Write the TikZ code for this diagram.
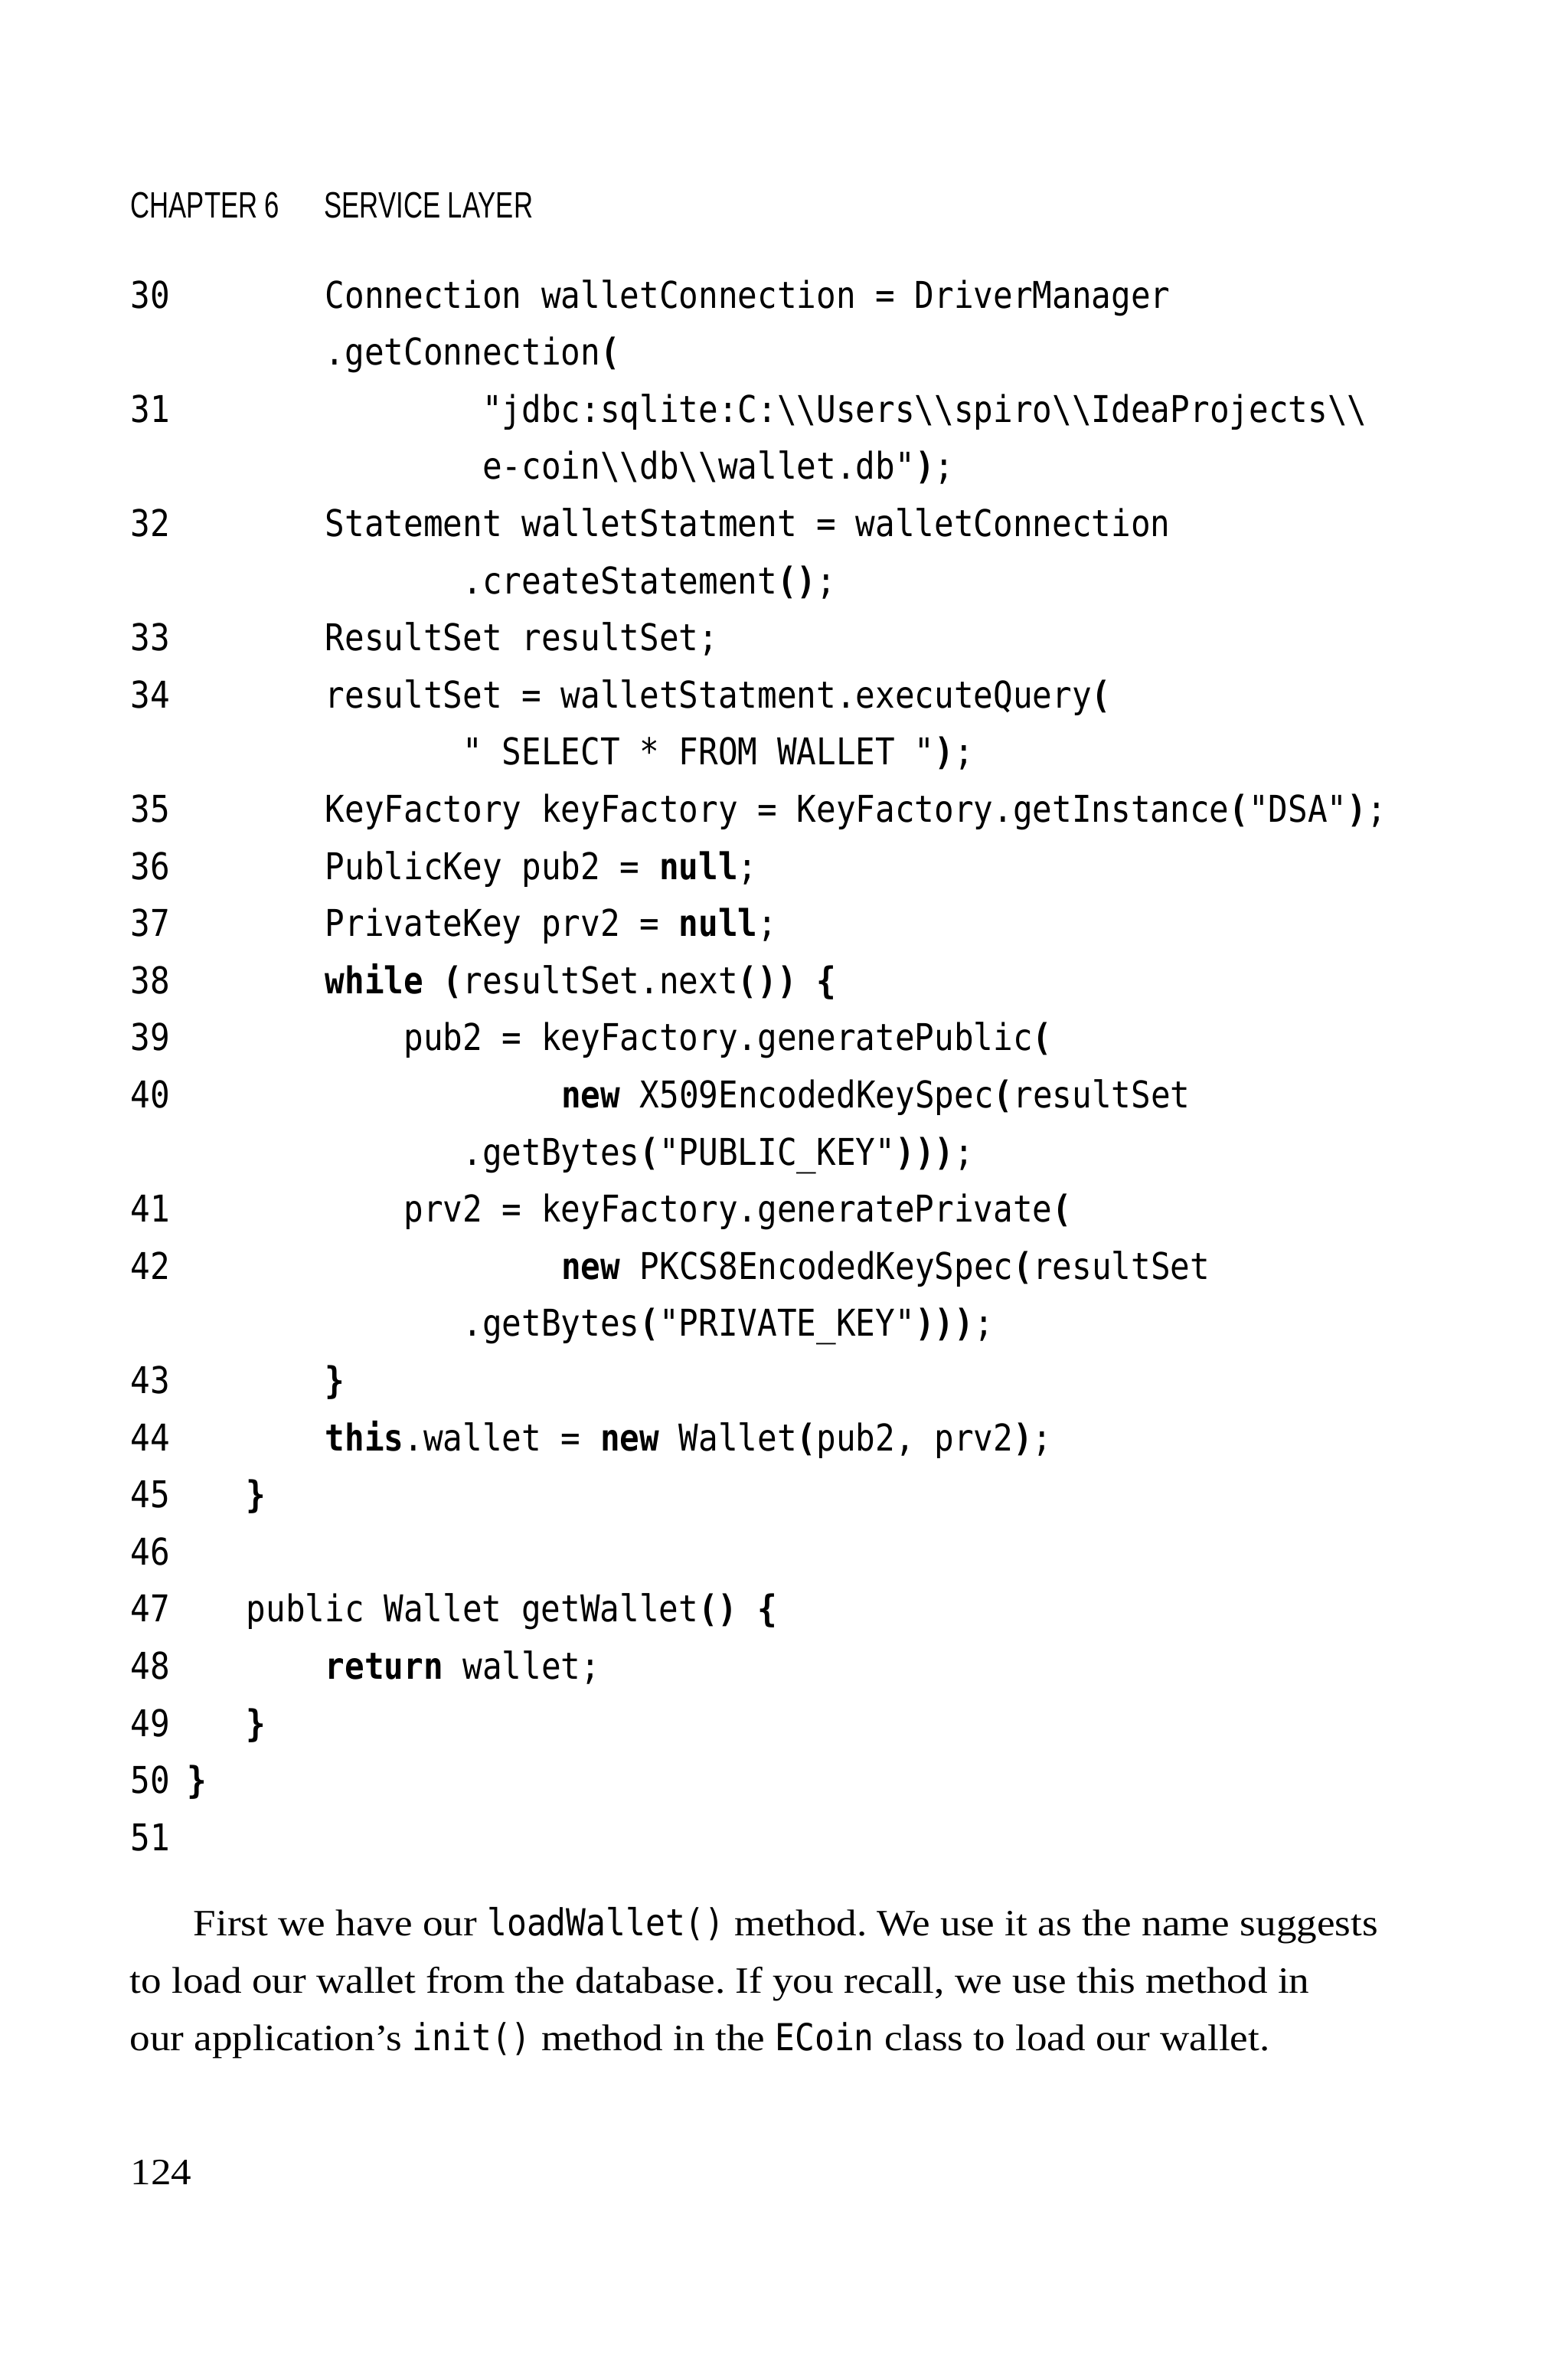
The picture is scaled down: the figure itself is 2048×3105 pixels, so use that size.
\documentclass[tikz,border=0pt]{standalone}
\usepackage{fontspec}
\newfontfamily\codef[FakeStretch=0.885]{DejaVu Sans Mono}
\newfontfamily\headf[FakeStretch=0.725]{Liberation Sans}
\newfontfamily\bodyf[FakeStretch=1.095]{Liberation Serif}
\newcommand\B[1]{\textbf{#1}}
\newcommand\bs{\textbackslash}
\newcommand\cd[1]{{\codef #1}}
\frenchspacing
\tikzset{
  codetxt/.style={anchor=base west, inner sep=0pt, font=\codef\fontsize{13.7}{16}\selectfont},
  numtxt/.style={anchor=base west, inner sep=0pt, font=\codef\fontsize{13.7}{16}\selectfont},
  headtxt/.style={anchor=base west, inner sep=0pt, font=\headf\fontsize{13.6}{16}\selectfont},
  bodytxt/.style={anchor=base west, inner sep=0pt, font=\bodyf\fontsize{13.8}{16}\selectfont},
}
\newcommand\crow[4]{\node[codetxt] (#1) at ({424+#2*25.7},{402+#3*74.6}) {#4};}
\newcommand\nrow[2]{\node[numtxt] (n#1) at (170,{402+#2*74.6}) {#1};}
\begin{document}
\begin{tikzpicture}[x=0.01cm,y=-0.01cm]
\useasboundingbox (0,0) rectangle (2048,3105);
\fill[white] (0,0) rectangle (2048,3105);
% header
\node[headtxt] (chap) at (170,284) {CHAPTER 6};
\node[headtxt] (sect) at (423,284) {SERVICE LAYER};
% line numbers
\nrow{30}{0}
\nrow{31}{2}
\nrow{32}{4}
\nrow{33}{6}
\nrow{34}{7}
\nrow{35}{9}
\nrow{36}{10}
\nrow{37}{11}
\nrow{38}{12}
\nrow{39}{13}
\nrow{40}{14}
\nrow{41}{16}
\nrow{42}{17}
\nrow{43}{19}
\nrow{44}{20}
\nrow{45}{21}
\nrow{46}{22}
\nrow{47}{23}
\nrow{48}{24}
\nrow{49}{25}
\nrow{50}{26}
\nrow{51}{27}
% code
\crow{c30}{0}{0}{Connection walletConnection = DriverManager}
\crow{c30b}{0}{1}{.getConnection\B{(}}
\crow{c31}{8}{2}{"jdbc:sqlite:C:\bs\bs Users\bs\bs spiro\bs\bs IdeaProjects\bs\bs}
\crow{c31b}{8}{3}{e-coin\bs\bs db\bs\bs wallet.db"\B{)};}
\crow{c32}{0}{4}{Statement walletStatment = walletConnection}
\crow{c32b}{7}{5}{.createStatement\B{()};}
\crow{c33}{0}{6}{ResultSet resultSet;}
\crow{c34}{0}{7}{resultSet = walletStatment.executeQuery\B{(}}
\crow{c34b}{7}{8}{" SELECT * FROM WALLET "\B{)};}
\crow{c35}{0}{9}{KeyFactory keyFactory = KeyFactory.getInstance\B{(}"DSA"\B{)};}
\crow{c36}{0}{10}{PublicKey pub2 = \B{null};}
\crow{c37}{0}{11}{PrivateKey prv2 = \B{null};}
\crow{c38}{0}{12}{\B{while (}resultSet.next\B{()) \{}}
\crow{c39}{4}{13}{pub2 = keyFactory.generatePublic\B{(}}
\crow{c40}{12}{14}{\B{new} X509EncodedKeySpec\B{(}resultSet}
\crow{c40b}{7}{15}{.getBytes\B{(}"PUBLIC\_KEY"\B{)))};}
\crow{c41}{4}{16}{prv2 = keyFactory.generatePrivate\B{(}}
\crow{c42}{12}{17}{\B{new} PKCS8EncodedKeySpec\B{(}resultSet}
\crow{c42b}{7}{18}{.getBytes\B{(}"PRIVATE\_KEY"\B{)))};}
\crow{c43}{0}{19}{\B{\}}}
\crow{c44}{0}{20}{\B{this}.wallet = \B{new} Wallet\B{(}pub2, prv2\B{)};}
\crow{c45}{-4}{21}{\B{\}}}
\crow{c47}{-4}{23}{public Wallet getWallet\B{() \{}}
\crow{c48}{0}{24}{\B{return} wallet;}
\crow{c49}{-4}{25}{\B{\}}}
\crow{c50}{-7}{26}{\B{\}}}
% paragraph
\node[bodytxt] (p1) at (252,2527) {First we have our \cd{loadWallet()} method. We use it as the name suggests};
\node[bodytxt] (p2) at (169,2602) {to load our wallet from the database. If you recall, we use this method in};
\node[bodytxt] (p3) at (169,2677) {our application’s \cd{init()} method in the \cd{ECoin} class to load our wallet.};
% page number
\node[bodytxt] (pg) at (170,2852) {124};
\end{tikzpicture}
\end{document}
